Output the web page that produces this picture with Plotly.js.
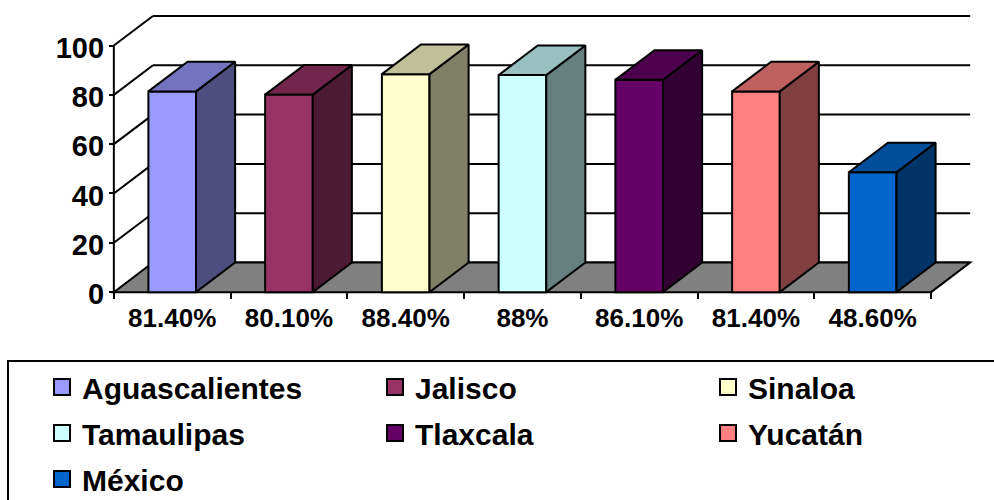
<!DOCTYPE html>
<html><head><meta charset="utf-8">
<script src="https://cdn.plot.ly/plotly-3.0.1.min.js"></script>
<style>html,body{margin:0;padding:0;background:#fff}#chart{width:994px;height:500px}</style>
</head><body><div id="chart"></div>
<script>
const states = ['Aguascalientes','Jalisco','Sinaloa','Tamaulipas','Tlaxcala','Yucatán','México'];
const values = [81.4, 80.1, 88.4, 88, 86.1, 81.4, 48.6];
const valueLabels = ['81.40%','80.10%','88.40%','88%','86.10%','81.40%','48.60%'];
const yTicks = [0, 20, 40, 60, 80, 100];
const frontColors = ['#9999FF','#993366','#FFFFCC','#CCFFFF','#660066','#FF8080','#0066CC'];

// 3D projection offsets, in axis units
const DX = 0.335, DY = 12.0, BAR_W = 0.408;
const idx = states.map((_, i) => i);
const left = -0.5, right = states.length - 0.5;
const X_MIN = left - 0.05, X_MAX = right + DX + 0.05;
const Y_MIN = -4, Y_MAX = 100 + DY + 2;
const W = 994, H = 500, ML = 108, MR = 18, MT = 11, MB = 198;
const plotW = W - ML - MR, plotH = H - MT - MB;
const pxX = p => (p - ML) / plotW;
const pxY = p => (H - MB - p) / plotH;
const FONT = 'Liberation Sans, Arial, sans-serif';

function shade(hex, f) {
  const n = parseInt(hex.slice(1), 16);
  const r = Math.round(((n >> 16) & 255) * f), g = Math.round(((n >> 8) & 255) * f), b = Math.round((n & 255) * f);
  return 'rgb(' + r + ',' + g + ',' + b + ')';
}

const traces = [];
traces.push({
  type: 'bar', x: idx, y: values, width: BAR_W,
  marker: {color: frontColors, line: {color: '#000', width: 2}},
  showlegend: false, hoverinfo: 'skip'
});
idx.forEach(i => {
  const v = values[i], x0 = i - BAR_W / 2, x1 = i + BAR_W / 2;
  traces.push({
    type: 'scatter', mode: 'lines',
    x: [x1, x1 + DX, x1 + DX, x1, x1], y: [0, DY, v + DY, v, 0],
    fill: 'toself', fillcolor: shade(frontColors[i], 0.5),
    line: {color: '#000', width: 2}, showlegend: false, hoverinfo: 'skip'
  });
  traces.push({
    type: 'scatter', mode: 'lines',
    x: [x0, x1, x1 + DX, x0 + DX, x0], y: [v, v, v + DY, v + DY, v],
    fill: 'toself', fillcolor: shade(frontColors[i], 0.75),
    line: {color: '#000', width: 2}, showlegend: false, hoverinfo: 'skip'
  });
});
idx.forEach(i => {
  const col = i % 3;
  traces.push({
    type: 'scatter', mode: 'markers', x: [null], y: [null], name: states[i],
    legend: col === 0 ? 'legend' : 'legend' + (col + 1), legendgroup: states[i],
    marker: {symbol: 'square', size: 16, color: frontColors[i], line: {color: '#000', width: 2}},
    hoverinfo: 'skip'
  });
});

const shapes = [];
yTicks.forEach(k => {
  shapes.push({type: 'line', xref: 'x', yref: 'y', layer: 'below',
    x0: left + DX, x1: right + DX, y0: k + DY, y1: k + DY, line: {color: '#000', width: 2}});
  if (k > 0) shapes.push({type: 'line', xref: 'x', yref: 'y', layer: 'below',
    x0: left, x1: left + DX, y0: k, y1: k + DY, line: {color: '#000', width: 2}});
});
shapes.push({type: 'path', xref: 'x', yref: 'y', layer: 'below',
  path: 'M' + left + ',0 L' + right + ',0 L' + (right + DX) + ',' + DY + ' L' + (left + DX) + ',' + DY + ' Z',
  fillcolor: '#808080', line: {color: '#000', width: 2}});
shapes.push({type: 'line', xref: 'x', yref: 'y', layer: 'below',
  x0: left, x1: left, y0: 0, y1: yTicks[yTicks.length - 1], line: {color: '#000', width: 2}});
shapes.push({type: 'rect', xref: 'paper', yref: 'paper',
  x0: pxX(8), x1: pxX(W + 10), y0: pxY(361), y1: pxY(H + 10),
  line: {color: '#000', width: 2}, fillcolor: 'rgba(0,0,0,0)'});

const legBase = {orientation: 'v', xanchor: 'left', yanchor: 'top', bgcolor: 'rgba(0,0,0,0)',
  borderwidth: 0, font: {family: FONT, size: 30, color: '#000', weight: 'bold'},
  tracegroupgap: 4, traceorder: 'grouped', itemclick: false, itemdoubleclick: false};

const layout = {
  width: W, height: H,
  margin: {l: ML, r: MR, t: MT, b: MB, autoexpand: false},
  paper_bgcolor: '#fff', plot_bgcolor: 'rgba(0,0,0,0)',
  showlegend: true, hovermode: false, dragmode: false, barmode: 'overlay',
  xaxis: {
    range: [X_MIN, X_MAX], anchor: 'free', position: (0 - Y_MIN) / (Y_MAX - Y_MIN),
    tickmode: 'array', tickvals: idx, ticktext: valueLabels, ticks: '',
    showline: false, showgrid: false, zeroline: false, fixedrange: true,
    tickfont: {family: FONT, size: 26, color: '#000', weight: 'bold'}, ticklabelstandoff: 8,
    minor: {tickmode: 'array', tickvals: idx.map(i => i - 0.5).concat([right]), ticks: 'outside',
      ticklen: 6, tickwidth: 2, tickcolor: '#000', showgrid: false}
  },
  yaxis: {
    range: [Y_MIN, Y_MAX], anchor: 'free', position: (left - X_MIN) / (X_MAX - X_MIN),
    tickmode: 'array', tickvals: yTicks, ticks: 'outside', ticklen: 5, tickwidth: 2, tickcolor: '#000',
    showline: false, showgrid: false, zeroline: false, fixedrange: true,
    tickfont: {family: FONT, size: 29, color: '#000', weight: 'bold'}, ticklabelstandoff: -1,
    ticklabelshift: 2
  },
  shapes: shapes,
  legend: Object.assign({}, legBase, {x: pxX(42), y: pxY(361)}),
  legend2: Object.assign({}, legBase, {x: pxX(375), y: pxY(361)}),
  legend3: Object.assign({}, legBase, {x: pxX(708), y: pxY(361)})
};

Plotly.newPlot('chart', traces, layout, {staticPlot: true, displayModeBar: false});
</script>
</body></html>
